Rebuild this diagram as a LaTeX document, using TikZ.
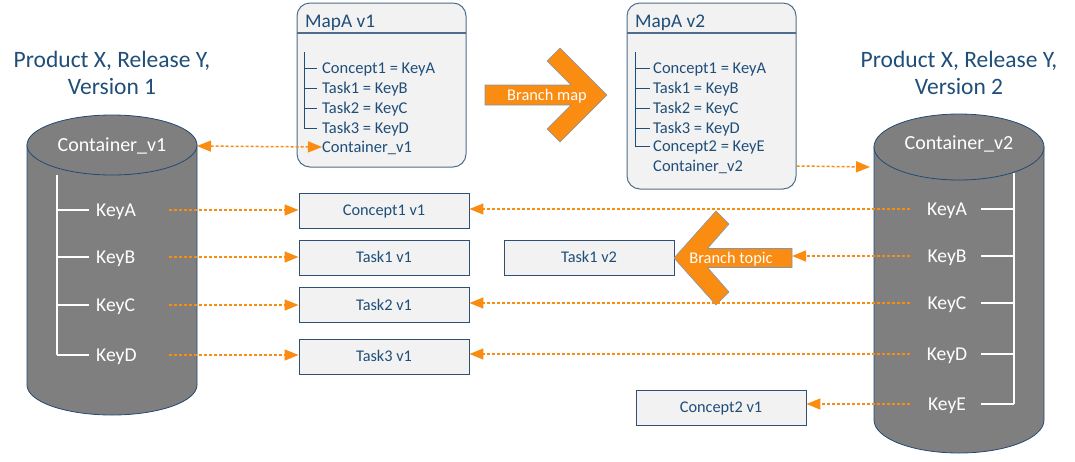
\documentclass[tikz,border=0pt]{standalone}
\usepackage{fontspec}
\setmainfont{Carlito}
\usetikzlibrary{arrows.meta}
\definecolor{txt}{HTML}{1F4E79}
\definecolor{boxb}{HTML}{2F4F73}
\definecolor{boxf}{HTML}{F2F2F2}
\definecolor{mapb}{HTML}{4F6D8C}
\definecolor{org}{HTML}{FA8C12}
\definecolor{cylf}{HTML}{7F7F7F}
\definecolor{cylb}{HTML}{244A73}
\definecolor{chevb}{HTML}{7F97B2}
\begin{document}
\begin{tikzpicture}[x=1pt,y=-1pt,
  box/.style={draw=boxb, fill=boxf, line width=0.9pt, minimum width=170pt, minimum height=35pt,
    inner sep=0pt, text=txt, font=\fontsize{16.3}{19}\selectfont, text height=10.5pt, text depth=0pt},
  mapbox/.style={draw=mapb, fill=boxf, line width=1pt, rounded corners=13pt, inner sep=0pt},
  maptitle/.style={anchor=west, inner sep=0pt, text=txt, font=\fontsize{19.3}{22}\selectfont, text height=12.4pt, text depth=0pt},
  mapitem/.style={anchor=west, inner sep=0pt, text=txt, font=\fontsize{16.5}{19}\selectfont, text height=10.6pt, text depth=0pt},
  maptree/.style={draw=txt, line width=0.8pt},
  keytxt/.style={inner sep=0pt, text=white, font=\fontsize{19.6}{22}\selectfont, text height=12.6pt, text depth=0pt},
  cyltxt/.style={inner sep=0pt, text=white, font=\fontsize{20}{22}\selectfont, text height=12.9pt, text depth=0pt},
  title/.style={inner sep=0pt, text=txt, font=\fontsize{23.5}{26}\selectfont, text height=15.1pt, text depth=0pt},
  cyl/.style={draw=cylb, fill=cylf, line width=0.8pt},
  cyltree/.style={draw=white, line width=1.3pt},
  conn/.style={draw=org, line width=1.5pt, dash pattern=on 3pt off 2pt, -{Triangle[length=14pt,width=11pt]}},
  chev/.style={draw=chevb, fill=org, line width=0.6pt},
  chevtxt/.style={inner sep=0pt, text=white, font=\fontsize{16.4}{19}\selectfont, text height=10.5pt, text depth=0pt}
]
\useasboundingbox (0,0) rectangle (1075,461);

% ---------- titles
\node[title] (tl1) at (112,60) {Product X, Release Y,};
\node[title] (tl2) at (112,87) {Version 1};
\node[title] (tr1) at (959,60) {Product X, Release Y,};
\node[title] (tr2) at (959,87) {Version 2};

% ---------- left cylinder
\path[cyl] (27,145) -- (27,385) arc[start angle=180, end angle=0, x radius=85, y radius=30] -- (197,145) -- cycle;
\path[cyl] (112,145) ellipse[x radius=85, y radius=30];
\node[cyltxt] (cv1) at (112,145) {Container\_v1};
\draw[cyltree] (57,175) -- (57,355);
\foreach \yy in {210,257,305,355} \draw[cyltree] (57,\yy) -- (89,\yy);
\node[keytxt, anchor=west] (kA1) at (96,210) {KeyA};
\node[keytxt, anchor=west] (kB1) at (96,257) {KeyB};
\node[keytxt, anchor=west] (kC1) at (96,305) {KeyC};
\node[keytxt, anchor=west] (kD1) at (96,355) {KeyD};
\coordinate (cyl1e) at (197,146);

% ---------- right cylinder
\path[cyl] (874,147) -- (874,420) arc[start angle=180, end angle=0, x radius=85, y radius=33] -- (1044,147) -- cycle;
\path[cyl] (959,147) ellipse[x radius=85, y radius=33];
\node[cyltxt] (cv2) at (959,143) {Container\_v2};
\draw[cyltree] (1014,173) -- (1014,404);
\foreach \yy in {209,256,303,354,404} \draw[cyltree] (981,\yy) -- (1014,\yy);
\node[keytxt] (kA2) at (947,209) {KeyA};
\node[keytxt] (kB2) at (947,256) {KeyB};
\node[keytxt] (kC2) at (947,303) {KeyC};
\node[keytxt] (kD2) at (947,354) {KeyD};
\node[keytxt] (kE2) at (947,404) {KeyE};
\coordinate (cyl2w) at (870,167);

% ---------- MapA v1
\node[mapbox, minimum width=169pt, minimum height=164pt] (m1) at (381.5,85) {};
\draw[draw=mapb, line width=1.6pt] (297,33) -- (466,33);
\node[maptitle] (m1t) at (305,21) {MapA v1};
\draw[maptree] (304,52) -- (304,128);
\foreach \yy in {68,88,108,128} \draw[maptree] (304,\yy) -- (317,\yy);
\node[mapitem] (m1a) at (322,68) {Concept1 = KeyA};
\node[mapitem] (m1b) at (322,88) {Task1 = KeyB};
\node[mapitem] (m1c) at (322,108) {Task2 = KeyC};
\node[mapitem] (m1d) at (322,128) {Task3 = KeyD};
\node[mapitem] (m1e) at (322,147) {Container\_v1};

% ---------- MapA v2
\node[mapbox, minimum width=169pt, minimum height=186pt] (m2) at (711.5,96) {};
\draw[draw=mapb, line width=1.6pt] (627,33) -- (796,33);
\node[maptitle] (m2t) at (635,21) {MapA v2};
\draw[maptree] (635,52) -- (635,146);
\foreach \yy in {68,88,108,128,146} \draw[maptree] (635,\yy) -- (650,\yy);
\node[mapitem] (m2a) at (653,68) {Concept1 = KeyA};
\node[mapitem] (m2b) at (653,88) {Task1 = KeyB};
\node[mapitem] (m2c) at (653,108) {Task2 = KeyC};
\node[mapitem] (m2d) at (653,128) {Task3 = KeyD};
\node[mapitem] (m2e) at (653,146) {Concept2 = KeyE};
\node[mapitem] (m2f) at (653,166) {Container\_v2};

% ---------- Branch map chevron
\path[chev] (485,85) -- (571,85) -- (547,61) -- (560,48) -- (607,95) -- (560,142) -- (547,129) -- (571,105) -- (485,105) -- cycle;
\node[chevtxt] (bm) at (547,95) {Branch map};

% ---------- boxes
\node[box] (c1v1) at (384,210.5) {Concept1 v1};
\node[box] (t1v1) at (384,257.7) {Task1 v1};
\node[box] (t2v1) at (384,305.3) {Task2 v1};
\node[box] (t3v1) at (384,356.7) {Task3 v1};
\node[box] (t1v2) at (589,257.7) {Task1 v2};
\node[box] (c2v1) at (721,407.5) {Concept2 v1};

% ---------- Branch topic chevron
\path[chev] (674,258) -- (716,211) -- (729,224) -- (707.5,248.5) -- (792,248.5) -- (792,267.5) -- (707.5,267.5) -- (729,292) -- (716,305) -- cycle;
\node[chevtxt] (bt) at (731,258) {Branch topic};
\coordinate (btend) at (792,258);

% ---------- connectors
\draw[conn, {Triangle[length=14pt,width=11pt]}-{Triangle[length=14pt,width=11pt]}] (cyl1e) -- (m1e.west);
\draw[conn] (m2.east |- m2f) -- (cyl2w);

\draw[conn] ([xshift=73pt]kA1.west) -- (kA1 -| c1v1.west);
\draw[conn] ([xshift=73pt]kB1.west) -- (kB1 -| t1v1.west);
\draw[conn] ([xshift=73pt]kC1.west) -- (kC1 -| t2v1.west);
\draw[conn] ([xshift=73pt]kD1.west) -- (kD1 -| t3v1.west);

\draw[conn] ([xshift=-37pt]kA2.center) -- (kA2 -| c1v1.east);
\draw[conn] ([xshift=-37pt]kB2.center) -- (kB2 -| btend);
\draw[conn] ([xshift=-37pt]kC2.center) -- (kC2 -| t2v1.east);
\draw[conn] ([xshift=-37pt]kD2.center) -- (kD2 -| t3v1.east);
\draw[conn] ([xshift=-37pt]kE2.center) -- (kE2 -| c2v1.east);
\end{tikzpicture}
\end{document}
